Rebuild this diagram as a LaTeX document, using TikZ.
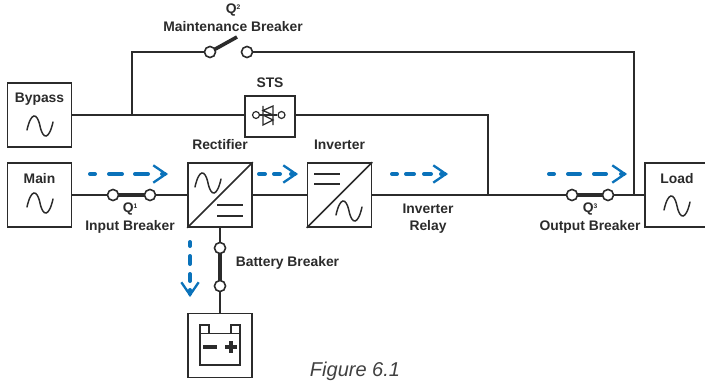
\documentclass[tikz,border=0pt]{standalone}
\usepackage{fontspec}
\setmainfont{Liberation Sans}
\usetikzlibrary{arrows.meta}
\definecolor{ink}{HTML}{2B2B2B}
\definecolor{flowblue}{HTML}{0A72BA}
\newcommand{\supnum}[1]{\raisebox{3.4pt}{\fontsize{5}{5}\selectfont #1}}
\tikzset{
  px/.style={x=0.75pt,y=-0.75pt},
  block/.style={draw=ink,line width=1.3pt,minimum width=48pt,minimum height=48pt,inner sep=0pt,fill=white},
  stsbox/.style={draw=ink,line width=1.3pt,minimum width=37pt,minimum height=30.5pt,inner sep=0pt,fill=white},
  wire/.style={draw=ink,line width=1.15pt},
  thin icon/.style={draw=ink,line width=1.1pt},
  contact/.style={circle,draw=ink,line width=1.1pt,fill=white,minimum size=8.2pt,inner sep=0pt},
  small contact/.style={circle,draw=ink,line width=0.9pt,fill=white,minimum size=5.2pt,inner sep=0pt},
  blade/.style={draw=ink,line width=2.7pt},
  lbl/.style={text=ink,font=\bfseries\fontsize{10.4}{12.75}\selectfont,align=center,inner sep=0pt},
  caption/.style={text=ink!90,font=\itshape\fontsize{15}{18}\selectfont,inner sep=0pt},
  flow/.style={draw=flowblue,line width=3pt,line cap=round,-{Straight Barb[length=9.5pt,width=13pt,line width=1.75pt]}},
  pics/sinewave/.style={code={
    \draw[thin icon,line cap=round] (-13,4) .. controls (-9,-14) and (-3,-14) .. (0,0) .. controls (3,14) and (9,14) .. (13,-4);
  }}
}
\begin{document}
\begin{tikzpicture}[px]
\useasboundingbox (0,0) rectangle (705,381);
\clip (0,0) rectangle (705,381);
% blocks
\node[block] (bypass) at (39.5,115) {};
\node[block] (main) at (39.5,195) {};
\node[block] (rect) at (220,195) {};
\node[block] (inv) at (339.5,195) {};
\node[block] (load) at (677,195) {};
\node[block] (batt) at (220,345.5) {};
\node[stsbox] (sts) at (270,116.5) {};
% contacts
\node[contact] (q2a) at (210,52) {};
\node[contact] (q2b) at (247,52) {};
\node[contact] (q1a) at (113,195) {};
\node[contact] (q1b) at (150,195) {};
\node[contact] (q3a) at (572,195) {};
\node[contact] (q3b) at (608,195) {};
\node[contact] (bba) at (220,248) {};
\node[contact] (bbb) at (220,286) {};
% free ends
\coordinate (jby) at (132,115);
\coordinate (jtop) at (132,52);
\coordinate (rtop) at (634,52);
\coordinate (rbot) at (634,195);
\coordinate (jr) at (488,115);
\coordinate (jrb) at (488,195);
\coordinate (q2tip) at (237,37);
% wiring
\draw[wire] (bypass.east |- jby) -- (jby) -- (sts.west |- jby);
\draw[wire] (jby) -- (jtop) -- (q2a);
\draw[wire] (q2b) -- (jtop -| rtop) -- (rbot);
\draw[wire] (sts.east |- jr) -- (jr) -- (jrb);
\draw[wire] (main.east) -- (q1a);
\draw[wire] (q1b) -- (rect.west);
\draw[wire] (rect.east) -- (inv.west);
\draw[wire] (inv.east) -- (q3a);
\draw[wire] (q3b) -- (load.west);
\draw[wire] (rect.south) -- (bba);
\draw[wire] (bbb) -- (batt.north);
\draw[blade] (q1a.center) -- (q1b.center);
\draw[blade] (q3a.center) -- (q3b.center);
\draw[blade] (bba.center) -- (bbb.center);
\draw[blade] (q2a.center) -- (q2tip);
\foreach \n in {q2a,q2b,q1a,q1b,q3a,q3b,bba,bbb} \node[contact] at (\n) {};
% converters
\draw[thin icon] (rect.south west) -- (rect.north east);
\draw[thin icon] (inv.south west) -- (inv.north east);
\draw[thin icon] (217,205) -- (243,205) (217,216) -- (243,216);
\draw[thin icon] (314,174) -- (340,174) (314,184) -- (340,184);
% sine waves
\pic at (40,126) {sinewave};
\pic at (40,203) {sinewave};
\pic at (208,183) {sinewave};
\pic at (349,211) {sinewave};
\pic at (677,206) {sinewave};
% STS icon
\node[small contact] (stsa) at (256,115) {};
\node[small contact] (stsb) at (281.5,115) {};
\draw[thin icon,line width=0.95pt] (stsa) -- (stsb);
\draw[thin icon,line width=0.95pt,fill=white] (263,106) -- (263,115) (273,106) -- (263,110.5) -- (273,115) -- cycle;
\draw[thin icon,line width=0.95pt,fill=white] (273,115) -- (273,125) (263,115) -- (273,120) -- (263,125) -- cycle;
% battery icon
\draw[thin icon] (200,333.5) rectangle (240,365);
\draw[thin icon] (200,333.5) -- (200,325) -- (209,325) -- (209,333.5);
\draw[thin icon] (231,333.5) -- (231,325) -- (240,325) -- (240,333.5);
\draw[draw=ink,line width=3pt] (203,347) -- (217,347);
\draw[draw=ink,line width=3pt] (225,347) -- (237,347) (231,341) -- (231,353);
% flow arrows
\coordinate (f1a) at (90,174); \coordinate (f1b) at (168,174);
\coordinate (f2a) at (259,174); \coordinate (f2b) at (298,174);
\coordinate (f3a) at (392,174); \coordinate (f3b) at (448,174);
\coordinate (f4a) at (549,174); \coordinate (f4b) at (627,174);
\coordinate (f5a) at (190,242); \coordinate (f5b) at (190,297);
\draw[flow,dash pattern=on 3.75pt off 10.5pt on 9.75pt off 9.75pt on 9.75pt off 10.5pt on 60pt off 0pt] (f1a) -- (f1b);
\draw[flow,dash pattern=on 4.5pt off 6.75pt on 4.5pt off 8.25pt on 60pt off 0pt] (f2a) -- (f2b);
\draw[flow,dash pattern=on 3.75pt off 6.75pt on 6pt off 7.5pt on 5.25pt off 7.5pt on 60pt off 0pt] (f3a) -- (f3b);
\draw[flow,dash pattern=on 3.75pt off 10.5pt on 9pt off 10.5pt on 9pt off 11.25pt on 60pt off 0pt] (f4a) -- (f4b);
\draw[flow,dash pattern=on 3pt off 7.5pt on 6pt off 7.5pt on 5.25pt off 6.75pt on 60pt off 0pt] (f5a) -- (f5b);
% labels
\node[lbl] (tq2) at (233,10.5) {Q\supnum{2}};
\node[lbl] (tmb) at (233,27) {Maintenance Breaker};
\node[lbl] (tby) at (39.5,99.5) {Bypass};
\node[lbl] (tmn) at (39.5,179) {Main};
\node[lbl] (tre) at (220,145) {Rectifier};
\node[lbl] (tst) at (270,83) {STS};
\node[lbl] (tin) at (339.5,145) {Inverter};
\node[lbl] (tq1) at (130,209.5) {Q\supnum{1}};
\node[lbl] (tib) at (130,227) {Input Breaker};
\node[lbl] (tbb) at (287.5,263) {Battery Breaker};
\node[lbl] (tir) at (428,218.5) {Inverter\\Relay};
\node[lbl] (tq3) at (590,209.5) {Q\supnum{3}};
\node[lbl] (tob) at (590,227) {Output Breaker};
\node[lbl] (tlo) at (677,179) {Load};
\node[caption] (fig) at (355,371) {Figure 6.1};
\end{tikzpicture}
\end{document}
